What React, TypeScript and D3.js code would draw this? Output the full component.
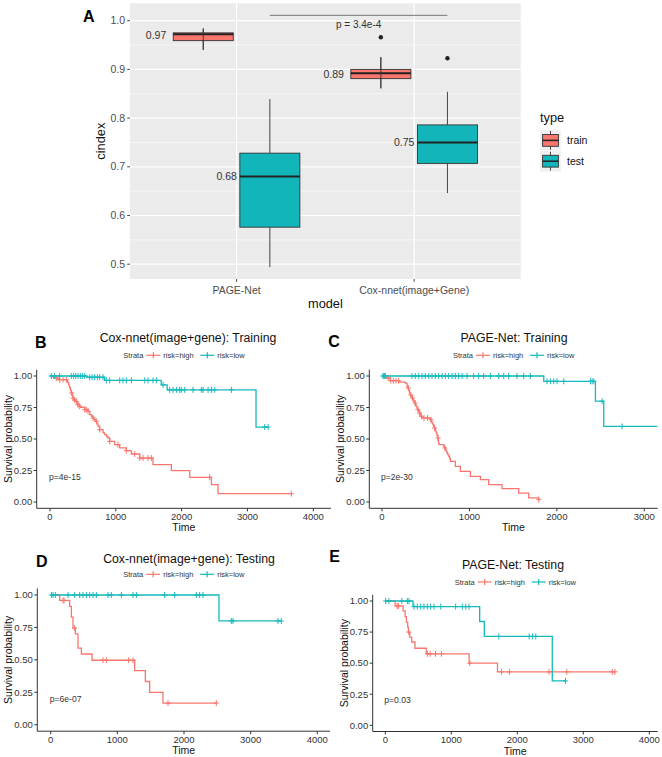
import React from "react";
import * as d3 from "d3";

const FONT = "'Liberation Sans', Arial, Helvetica, sans-serif";
const RED = "#F8766D";
const TEAL = "#00BFC4";

// ---------- Panel A data ----------
const boxModels = ["PAGE-Net", "Cox-nnet(image+Gene)"];
const boxTypes = ["train", "test"];
const trainMin = [0.94, 0.861];
const trainQ1 = [0.959, 0.881];
const trainMedian = [0.972, 0.892];
const trainQ3 = [0.975, 0.9];
const trainMax = [0.984, 0.925];
const trainOutliers: number[][] = [[], [0.966]];
const testMin = [0.494, 0.646];
const testQ1 = [0.576, 0.707];
const testMedian = [0.68, 0.75];
const testQ3 = [0.728, 0.786];
const testMax = [0.839, 0.854];
const testOutliers: number[][] = [[], [0.923]];
const trainLabels = ["0.97", "0.89"];
const testLabels = ["0.68", "0.75"];
const cindexTicks = [0.5, 0.6, 0.7, 0.8, 0.9, 1.0];
const cindexMinor = [0.55, 0.65, 0.75, 0.85, 0.95];
const compareText = "p = 3.4e-4";
const compareValue = 1.011;

// ---------- KM data: [time, survival after event] ----------
const strataLabels = ["risk=high", "risk=low"];
const survTicks = [0, 0.25, 0.5, 0.75, 1.0];

// B: Cox-nnet training
const bHighSteps = [[50,0.984],[120,0.971],[264,0.952],[280,0.935],[290,0.92],[299,0.905],[312,0.885],[324,0.865],[337,0.845],[350,0.825],[367,0.81],[385,0.799],[405,0.785],[425,0.772],[445,0.76],[466,0.751],[527,0.733],[578,0.72],[603,0.693],[630,0.68],[654,0.667],[670,0.653],[690,0.64],[710,0.62],[730,0.601],[755,0.574],[806,0.548],[831,0.534],[860,0.52],[881,0.508],[907,0.481],[983,0.455],[1059,0.429],[1160,0.407],[1236,0.381],[1363,0.349],[1565,0.296],[1844,0.249],[2123,0.196],[2452,0.138],[2553,0.066]];
const bHighEnd = 3667;
const bHighCensor = [96,147,198,248,330,350,375,400,425,451,527,552,578,654,704,755,907,1033,1160,1287,1363,1413,1489,1540,2426,3667];
const bLowSteps = [[560,0.99],[830,0.965],[1690,0.93],[1780,0.89],[3130,0.595]];
const bLowEnd = 3313;
const bLowCensor = [20,71,147,324,360,390,425,460,490,527,603,640,679,720,755,806,856,907,1059,1109,1160,1236,1439,1489,1565,1616,1717,1818,1869,1920,1970,1995,2046,2173,2300,2325,2401,2452,2503,2756,3262,3313];

// C: PAGE-Net training
const cHighSteps = [[57,0.984],[95,0.963],[191,0.952],[267,0.944],[286,0.92],[295,0.905],[305,0.885],[315,0.865],[324,0.85],[334,0.839],[343,0.825],[352,0.812],[362,0.8],[372,0.786],[381,0.772],[390,0.759],[400,0.745],[410,0.733],[420,0.72],[430,0.706],[439,0.693],[448,0.68],[458,0.667],[553,0.653],[562,0.64],[572,0.627],[582,0.614],[591,0.6],[600,0.587],[610,0.565],[620,0.548],[629,0.528],[638,0.508],[643,0.488],[648,0.468],[652,0.455],[706,0.44],[716,0.429],[725,0.415],[735,0.402],[744,0.389],[752,0.376],[763,0.362],[772,0.349],[782,0.323],[839,0.283],[896,0.243],[1011,0.204],[1125,0.177],[1220,0.138],[1373,0.106],[1564,0.071],[1678,0.032],[1790,0.019]];
const cHighEnd = 1793;
const cHighCensor = [20,40,70,100,130,160,190,300,330,350,380,410,430,450,480,520,560,600,640,720,1793];
const cLowSteps = [[1850,0.958],[2441,0.8],[2536,0.6]];
const cLowEnd = 3150;
const cLowCensor = [10,30,343,381,420,458,496,534,572,610,648,687,725,763,801,839,877,916,973,1049,1106,1163,1240,1335,1392,1449,1545,1621,1697,1888,1926,1964,2002,2079,2384,2403,2422,2517,2746];

// D: Cox-nnet testing
const dHighSteps = [[135,0.958],[285,0.912],[310,0.83],[335,0.745],[370,0.7],[410,0.59],[460,0.545],[620,0.497],[1260,0.417],[1420,0.333],[1485,0.25],[1685,0.167]];
const dHighEnd = 2485;
const dHighCensor = [185,200,360,785,835,1170,1235,1760,2485];
const dLowSteps = [[2525,0.8]];
const dLowEnd = 3460;
const dLowCensor = [10,35,70,260,360,435,485,535,585,635,685,860,910,1060,1235,1285,1710,1860,2185,2235,2285,2710,2735,3410,3460];

// E: PAGE-Net testing
const eHighSteps = [[150,0.96],[270,0.92],[300,0.875],[320,0.83],[340,0.79],[350,0.75],[370,0.71],[400,0.67],[450,0.62],[620,0.575],[1270,0.5],[1700,0.43]];
const eHighEnd = 3480;
const eHighCensor = [180,200,355,640,680,760,850,1280,1760,1880,2480,2750,3440,3480];
const eLowSteps = [[420,0.955],[1430,0.835],[1500,0.715],[2530,0.357]];
const eLowEnd = 2730;
const eLowCensor = [5,56,250,334,359,435,485,536,586,637,687,738,839,1066,1168,1218,1268,1720,2180,2230,2280,2730];

// ---------- helpers ----------
function survAt(steps: number[][], t: number) {
  let s = 1;
  for (const [ti, si] of steps) if (ti <= t) s = si;
  return s;
}

function PanelA() {
  const y = d3.scaleLinear().domain([0.4696, 1.0357]).range([279, 3.3]);
  const x = d3.scalePoint<string>().domain(boxModels).range([130, 520.7]).padding(0.6);
  const step = x.step();
  const dodge = step * 0.1875;
  const half = step * 0.169;
  const groups = [
    { type: boxTypes[0], fill: RED, off: -dodge, mins: trainMin, q1: trainQ1, med: trainMedian, q3: trainQ3, maxs: trainMax, out: trainOutliers, labels: trainLabels, labelGap: 37, through: true },
    { type: boxTypes[1], fill: "#12B6BA", off: dodge, mins: testMin, q1: testQ1, med: testMedian, q3: testQ3, maxs: testMax, out: testOutliers, labels: testLabels, labelGap: 33, through: false },
  ];
  const px0 = x(boxModels[0])! + dodge;
  const px1 = x(boxModels[1])! + dodge;
  return (
    <g>
      <rect x={130} y={3.3} width={390.7} height={275.7} fill="#EBEBEB" />
      {cindexMinor.map((v) => (
        <line key={"mn" + v} x1={130} x2={520.7} y1={y(v)} y2={y(v)} stroke="#fff" strokeWidth={0.6} />
      ))}
      {cindexTicks.map((v) => (
        <line key={"mj" + v} x1={130} x2={520.7} y1={y(v)} y2={y(v)} stroke="#fff" strokeWidth={1.2} />
      ))}
      {boxModels.map((m) => (
        <line key={"vx" + m} x1={x(m)} x2={x(m)} y1={3.3} y2={279} stroke="#fff" strokeWidth={1.2} />
      ))}
      {groups.map((g) =>
        boxModels.map((m, i) => {
          const cx = x(m)! + g.off;
          return (
            <g key={g.type + m}>
              <line x1={cx} x2={cx} y1={y(g.maxs[i])} y2={y(g.q3[i])} stroke="#333" strokeWidth={0.9} />
              <line x1={cx} x2={cx} y1={y(g.q1[i])} y2={y(g.mins[i])} stroke="#333" strokeWidth={0.9} />
              <rect x={cx - half} width={2 * half} y={y(g.q3[i])} height={y(g.q1[i]) - y(g.q3[i])} fill={g.fill} stroke="#333" strokeWidth={0.9} />
              <line x1={cx - half} x2={cx + half} y1={y(g.med[i])} y2={y(g.med[i])} stroke="#222" strokeWidth={2} />
              {g.through && (
                <line x1={cx} x2={cx} y1={y(g.maxs[i])} y2={y(g.mins[i])} stroke="#333" strokeWidth={0.9} />
              )}
              {g.out[i].map((o) => (
                <circle key={o} cx={cx} cy={y(o)} r={2.2} fill="#222" />
              ))}
              <text x={cx - g.labelGap} y={y(parseFloat(g.labels[i]))} dy="0.35em" textAnchor="end" fontSize={10.5} fill="#333" fontFamily={FONT}>
                {g.labels[i]}
              </text>
            </g>
          );
        })
      )}
      <line x1={px0} x2={px1} y1={y(compareValue)} y2={y(compareValue)} stroke="#444" strokeWidth={0.7} />
      <text x={(px0 + px1) / 2} y={y(compareValue) + 13} textAnchor="middle" fontSize={10} fill="#333" fontFamily={FONT}>
        {compareText}
      </text>
      {cindexTicks.map((v) => (
        <g key={"yt" + v}>
          <line x1={127.2} x2={130} y1={y(v)} y2={y(v)} stroke="#333" strokeWidth={0.9} />
          <text x={125} y={y(v)} dy="0.35em" textAnchor="end" fontSize={10.5} fill="#4D4D4D" fontFamily={FONT}>
            {d3.format(".1f")(v)}
          </text>
        </g>
      ))}
      {boxModels.map((m) => (
        <g key={"xt" + m}>
          <line x1={x(m)} x2={x(m)} y1={279} y2={281.8} stroke="#333" strokeWidth={0.9} />
          <text x={x(m)} y={293.8} textAnchor="middle" fontSize={10.5} fill="#4D4D4D" fontFamily={FONT}>
            {m}
          </text>
        </g>
      ))}
      <text transform="translate(105,141.2) rotate(-90)" textAnchor="middle" fontSize={12.8} fill="#111" fontFamily={FONT}>
        cindex
      </text>
      <text x={325.4} y={308} textAnchor="middle" fontSize={12.8} fill="#111" fontFamily={FONT}>
        model
      </text>
      <text x={83} y={22} fontSize={16} fontWeight="bold" fill="#000" fontFamily={FONT}>
        A
      </text>
      {/* legend */}
      <text x={540} y={122} fontSize={12.8} fill="#111" fontFamily={FONT}>
        type
      </text>
      {groups.map((g, k) => {
        const top = 130 + k * 20.8;
        const cx = 550.5;
        return (
          <g key={"lg" + g.type}>
            <rect x={540} y={top} width={20.8} height={20.8} fill="#F0F0F0" />
            <line x1={cx} x2={cx} y1={top + 1} y2={top + 19.8} stroke="#333" strokeWidth={0.9} />
            <rect x={542.6} y={top + 4.5} width={15.8} height={11.8} fill={g.fill} stroke="#333" strokeWidth={0.9} />
            <line x1={542.6} x2={558.4} y1={top + 10.4} y2={top + 10.4} stroke="#222" strokeWidth={1.5} />
            <text x={567} y={top + 10.4} dy="0.35em" fontSize={10.5} fill="#111" fontFamily={FONT}>
              {g.type}
            </text>
          </g>
        );
      })}
    </g>
  );
}

type Geom = {
  axL: number; axR: number; x0: number; xTickMax: number; tickMax: number;
  axT: number; axB: number; y1: number; y0: number;
  titleX: number; titleY: number; legendY: number; letterX: number; letterY: number;
};

function KMPanel(props: {
  id: string; g: Geom; title: string; letter: string; pval: string;
  high: number[][]; highEnd: number; highCensor: number[];
  low: number[][]; lowEnd: number; lowCensor: number[];
}) {
  const { g } = props;
  const x = d3.scaleLinear().domain([0, g.tickMax]).range([g.x0, g.xTickMax]);
  const y = d3.scaleLinear().domain([0, 1]).range([g.y0, g.y1]);
  const xticks = d3.range(0, g.tickMax + 1, 1000);
  const line = d3.line<number[]>().x((d) => x(d[0])).y((d) => y(d[1])).curve(d3.curveStepAfter);
  const series = [
    { steps: props.high, end: props.highEnd, cens: props.highCensor, color: RED },
    { steps: props.low, end: props.lowEnd, cens: props.lowCensor, color: "#14B9BD" },
  ];
  const axC = (g.axL + g.axR) / 2;
  const lx = axC - 60.5;
  const clipId = "clip" + props.id;
  const sym = (sx: number, color: string) => (
    <g>
      <line x1={sx} x2={sx + 14} y1={g.legendY} y2={g.legendY} stroke={color} strokeWidth={1.2} />
      <line x1={sx + 7} x2={sx + 7} y1={g.legendY - 3} y2={g.legendY + 3} stroke={color} strokeWidth={1.2} />
    </g>
  );
  return (
    <g>
      <defs>
        <clipPath id={clipId}>
          <rect x={g.axL} y={g.axT - 5} width={g.axR - g.axL} height={g.axB - g.axT + 5} />
        </clipPath>
      </defs>
      <text x={g.letterX} y={g.letterY} dy="0.36em" fontSize={16} fontWeight="bold" fill="#000" fontFamily={FONT}>
        {props.letter}
      </text>
      <text x={g.titleX} y={g.titleY} dy="0.35em" textAnchor="middle" fontSize={12.3} fill="#111" fontFamily={FONT}>
        {props.title}
      </text>
      {/* legend */}
      <text x={lx} y={g.legendY} dy="0.35em" fontSize={7.5} fill="#333" fontFamily={FONT}>Strata</text>
      {sym(lx + 23, series[0].color)}
      <text x={lx + 40} y={g.legendY} dy="0.35em" fontSize={7.5} fill="#333" fontFamily={FONT}>{strataLabels[0]}</text>
      {sym(lx + 77, series[1].color)}
      <text x={lx + 94} y={g.legendY} dy="0.35em" fontSize={7.5} fill="#333" fontFamily={FONT}>{strataLabels[1]}</text>
      {/* curves */}
      <g clipPath={`url(#${clipId})`}>
        {series.map((s, k) => {
          const pts = [[0, 1], ...s.steps, [s.end, s.steps.length ? s.steps[s.steps.length - 1][1] : 1]];
          return (
            <g key={k}>
              <path d={line(pts) || ""} fill="none" stroke={s.color} strokeWidth={1.3} />
              {s.cens.map((t, j) => {
                const cx = x(t);
                const cy = y(survAt(s.steps, t));
                return (
                  <g key={j}>
                    <line x1={cx} x2={cx} y1={cy - 3} y2={cy + 3} stroke={s.color} strokeWidth={1} />
                    <line x1={cx - 2.5} x2={cx + 2.5} y1={cy} y2={cy} stroke={s.color} strokeWidth={1} />
                  </g>
                );
              })}
            </g>
          );
        })}
      </g>
      <text x={x(0) - 1} y={y(0.2)} dy="0.35em" fontSize={8.6} fill="#333" fontFamily={FONT}>
        {props.pval}
      </text>
      {/* axes */}
      <line x1={g.axL} x2={g.axL} y1={g.axT} y2={g.axB} stroke="#333" strokeWidth={1} />
      <line x1={g.axL} x2={g.axR} y1={g.axB} y2={g.axB} stroke="#333" strokeWidth={1} />
      {survTicks.map((v) => (
        <g key={"s" + v}>
          <line x1={g.axL - 3} x2={g.axL} y1={y(v)} y2={y(v)} stroke="#333" strokeWidth={1} />
          <text x={g.axL - 4.5} y={y(v)} dy="0.35em" textAnchor="end" fontSize={9.5} fill="#333" fontFamily={FONT}>
            {d3.format(".2f")(v)}
          </text>
        </g>
      ))}
      {xticks.map((t) => (
        <g key={"t" + t}>
          <line x1={x(t)} x2={x(t)} y1={g.axB} y2={g.axB + 3} stroke="#333" strokeWidth={1} />
          <text x={x(t)} y={g.axB + 8.4} dy="0.35em" textAnchor="middle" fontSize={9.5} fill="#333" fontFamily={FONT}>
            {t}
          </text>
        </g>
      ))}
      <text x={axC} y={g.axB + 19.5} dy="0.35em" textAnchor="middle" fontSize={10.5} fill="#111" fontFamily={FONT}>
        Time
      </text>
      <text transform={`translate(${g.axL - 28.5},${(g.axT + g.axB) / 2}) rotate(-90)`} dy="0.35em" textAnchor="middle" fontSize={10.5} fill="#111" fontFamily={FONT}>
        Survival probability
      </text>
    </g>
  );
}

const geomB: Geom = { axL: 36.7, axR: 331, x0: 50, xTickMax: 313.3, tickMax: 4000, axT: 369.7, axB: 508.3, y1: 376, y0: 502, titleX: 188, titleY: 337.7, legendY: 355.3, letterX: 35, letterY: 342.7 };
const geomC: Geom = { axL: 369.3, axR: 657.7, x0: 382, xTickMax: 644.3, tickMax: 3000, axT: 369.7, axB: 508.3, y1: 376, y0: 502, titleX: 514, titleY: 337.7, legendY: 355.3, letterX: 328.3, letterY: 341.7 };
const geomD: Geom = { axL: 37.3, axR: 330, x0: 50.7, xTickMax: 317.3, tickMax: 4000, axT: 588.5, axB: 731.2, y1: 595, y0: 724.7, titleX: 189, titleY: 558.3, legendY: 574.3, letterX: 36, letterY: 561.7 };
const geomE: Geom = { axL: 372.7, axR: 657.7, x0: 385.3, xTickMax: 649.3, tickMax: 4000, axT: 594.8, axB: 731.5, y1: 601, y0: 725.3, titleX: 513, titleY: 565, legendY: 582, letterX: 329.3, letterY: 556.7 };

export default function App() {
  return (
    <svg width={662} height={757} viewBox="0 0 662 757" style={{ position: "absolute", left: 0, top: 0, background: "#fff" }}>
      <rect width={662} height={757} fill="#fff" />
      <PanelA />
      <KMPanel id="B" g={geomB} letter="B" title="Cox-nnet(image+gene): Training" pval="p=4e-15"
        high={bHighSteps} highEnd={bHighEnd} highCensor={bHighCensor} low={bLowSteps} lowEnd={bLowEnd} lowCensor={bLowCensor} />
      <KMPanel id="C" g={geomC} letter="C" title="PAGE-Net: Training" pval="p=2e-30"
        high={cHighSteps} highEnd={cHighEnd} highCensor={cHighCensor} low={cLowSteps} lowEnd={cLowEnd} lowCensor={cLowCensor} />
      <KMPanel id="D" g={geomD} letter="D" title="Cox-nnet(image+gene): Testing" pval="p=6e-07"
        high={dHighSteps} highEnd={dHighEnd} highCensor={dHighCensor} low={dLowSteps} lowEnd={dLowEnd} lowCensor={dLowCensor} />
      <KMPanel id="E" g={geomE} letter="E" title="PAGE-Net: Testing" pval="p=0.03"
        high={eHighSteps} highEnd={eHighEnd} highCensor={eHighCensor} low={eLowSteps} lowEnd={eLowEnd} lowCensor={eLowCensor} />
    </svg>
  );
}
